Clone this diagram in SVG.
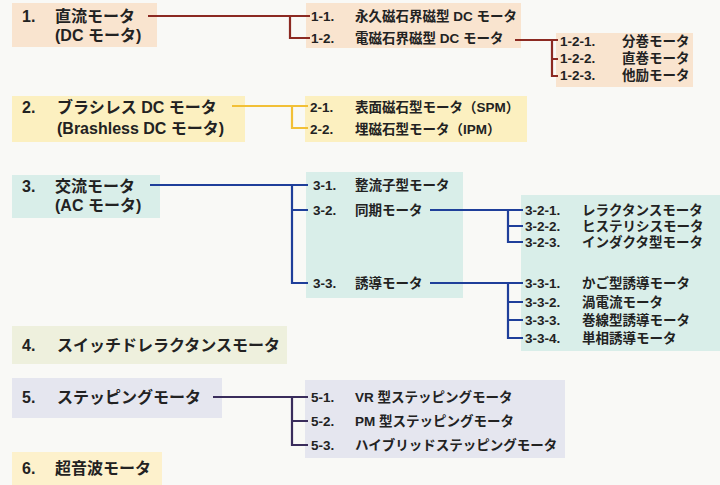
<svg xmlns="http://www.w3.org/2000/svg" width="720" height="485" viewBox="0 0 720 485">
<style>
text{font-family:"Liberation Sans","Noto Sans CJK JP",sans-serif;fill:#222;font-weight:700}
.t1{font-size:16px}
.t2{font-size:13.5px}
.c{fill:none;stroke-width:2.2;stroke-linejoin:miter;stroke-linecap:butt}
.r1{stroke:#8c2a22}.r2{stroke:#f2c037}.r3{stroke:#1f3f9a}.r5{stroke:#3a2d5c}
.b1{fill:#f9e4cf}.b2{fill:#fcf0c0}.b3{fill:#d9eee9}.b4{fill:#eef0dd}.b5{fill:#e5e6ef}.b6{fill:#fdf1cc}
</style>
<rect width="720" height="485" fill="#f9f9f6"/>

<g id="n1">
<rect class="b1" x="12" y="3" width="145" height="44"/>
<text class="t1"><tspan x="22" y="22">1.</tspan><tspan x="55" y="22">直流モータ</tspan><tspan x="55" y="41">(DC モータ)</tspan></text>
</g>
<g id="n1-x">
<rect class="b1" x="306" y="3" width="215" height="45"/>
<text class="t2"><tspan x="311" y="21">1-1.</tspan><tspan x="355" y="21">永久磁石界磁型 DC モータ</tspan><tspan x="311" y="43">1-2.</tspan><tspan x="355" y="43">電磁石界磁型 DC モータ</tspan></text>
</g>
<g id="n1-2-x">
<rect class="b1" x="556" y="33" width="137" height="54"/>
<text class="t2"><tspan x="560" y="46">1-2-1.</tspan><tspan x="622" y="46">分巻モータ</tspan><tspan x="560" y="63">1-2-2.</tspan><tspan x="622" y="63">直巻モータ</tspan><tspan x="560" y="80">1-2-3.</tspan><tspan x="622" y="80">他励モータ</tspan></text>
</g>

<g id="n2">
<rect class="b2" x="12" y="96" width="233" height="46"/>
<text class="t1"><tspan x="22" y="113">2.</tspan><tspan x="57" y="113">ブラシレス DC モータ</tspan><tspan x="57" y="134">(Brashless DC モータ)</tspan></text>
</g>
<g id="n2-x">
<rect class="b2" x="305" y="96" width="222" height="46"/>
<text class="t2"><tspan x="310" y="112">2-1.</tspan><tspan x="355" y="112">表面磁石型モータ（SPM）</tspan><tspan x="310" y="134">2-2.</tspan><tspan x="355" y="134">埋磁石型モータ（IPM）</tspan></text>
</g>

<g id="n3">
<rect class="b3" x="12" y="175" width="148" height="43"/>
<text class="t1"><tspan x="22" y="192">3.</tspan><tspan x="55" y="192">交流モータ</tspan><tspan x="55" y="211">(AC モータ)</tspan></text>
</g>
<g id="n3-x">
<rect class="b3" x="306" y="172" width="157" height="126"/>
<text class="t2"><tspan x="313" y="190">3-1.</tspan><tspan x="355" y="190">整流子型モータ</tspan><tspan x="313" y="215">3-2.</tspan><tspan x="355" y="215">同期モータ</tspan><tspan x="313" y="288">3-3.</tspan><tspan x="355" y="288">誘導モータ</tspan></text>
</g>
<g id="n3-y">
<rect class="b3" x="521" y="195" width="199" height="156"/>
<text class="t2"><tspan x="525" y="215">3-2-1.</tspan><tspan x="582" y="215">レラクタンスモータ</tspan><tspan x="525" y="231">3-2-2.</tspan><tspan x="582" y="231">ヒステリシスモータ</tspan><tspan x="525" y="247">3-2-3.</tspan><tspan x="582" y="247">インダクタ型モータ</tspan></text>
<text class="t2"><tspan x="525" y="288">3-3-1.</tspan><tspan x="582" y="288">かご型誘導モータ</tspan><tspan x="525" y="307">3-3-2.</tspan><tspan x="582" y="307">渦電流モータ</tspan><tspan x="525" y="325">3-3-3.</tspan><tspan x="582" y="325">巻線型誘導モータ</tspan><tspan x="525" y="343">3-3-4.</tspan><tspan x="582" y="343">単相誘導モータ</tspan></text>
</g>

<g id="n4">
<rect class="b4" x="12" y="326" width="275" height="38"/>
<text class="t1"><tspan x="22" y="351">4.</tspan><tspan x="57" y="351">スイッチドレラクタンスモータ</tspan></text>
</g>

<g id="n5">
<rect class="b5" x="12" y="378" width="210" height="40"/>
<text class="t1"><tspan x="22" y="403">5.</tspan><tspan x="57" y="403">ステッピングモータ</tspan></text>
</g>
<g id="n5-x">
<rect class="b5" x="305" y="380" width="260" height="78"/>
<text class="t2"><tspan x="311" y="402">5-1.</tspan><tspan x="355" y="402">VR 型ステッピングモータ</tspan><tspan x="311" y="426">5-2.</tspan><tspan x="355" y="426">PM 型ステッピングモータ</tspan><tspan x="311" y="450">5-3.</tspan><tspan x="355" y="450">ハイブリッドステッピングモータ</tspan></text>
</g>

<g id="n6">
<rect class="b6" x="12" y="452" width="150" height="33"/>
<text class="t1"><tspan x="22" y="474">6.</tspan><tspan x="55" y="474">超音波モータ</tspan></text>
</g>

<g id="connectors">
<path class="c r1" d="M148 16H310M290 16V38H310"/>
<path class="c r1" d="M515 40H558M552 40V76H558M552 59H558"/>
<path class="c r2" d="M232 106H308M292 106V128H308"/>
<path class="c r3" d="M150 185H308M292 185V283H308M292 210H308"/>
<path class="c r3" d="M430 210H523M508 210V242H523M508 226H523"/>
<path class="c r3" d="M430 283H523M508 283V338H523M508 302H523M508 320H523"/>
<path class="c r5" d="M213 397H308M292 397V445H308M292 421H308"/>
</g>
</svg>
